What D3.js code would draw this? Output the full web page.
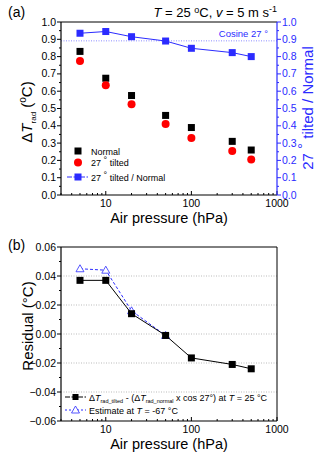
<!DOCTYPE html>
<html>
<head>
<meta charset="utf-8">
<title>Air pressure chart</title>
<script src="https://cdn.jsdelivr.net/npm/d3@7"></script>
<style>
	body { margin: 0; background: #fff; }
	svg text { font-family: "Liberation Sans", Arial, sans-serif; }
</style>
</head>
<body>
<svg id="chart" width="320" height="458"></svg>
<script>

// pressure points (hPa)
var pressure = [5, 10, 20, 50, 100, 300, 500];
// panel (a)
var normalVals = [0.83, 0.675, 0.575, 0.46, 0.39, 0.31, 0.26];
var tiltedVals = [0.775, 0.635, 0.525, 0.41, 0.33, 0.255, 0.205];
var ratioVals = [0.935, 0.945, 0.915, 0.89, 0.848, 0.823, 0.80];
var cosine27 = 0.891;
// panel (b)
var residual25 = [0.037, 0.037, 0.014, -0.001, -0.0165, -0.021, -0.024];
var pressureEst = [5, 10, 20, 50];
var residualEst = [0.045, 0.044, 0.016, -0.001];

var leftTicks = [0, 0.1, 0.2, 0.3, 0.4, 0.5, 0.6, 0.7, 0.8, 0.9, 1.0];
var resTicks = [-0.06, -0.04, -0.02, 0, 0.02, 0.04, 0.06];
var xTicks = [10, 100, 1000];

var blue = "#2b2bff";
var svg = d3.select("#chart");

var x = d3.scaleLog().domain([3, 1000]).range([61, 277]);
var ya = d3.scaleLinear().domain([0, 1]).range([195, 22]);
var yb = d3.scaleLinear().domain([-0.06, 0.06]).range([421, 247]);

// minor ticks for log axis
var xMinor = [];
[1, 10, 100].forEach(function(d){
	for(var k = 2; k <= 9; k++){
		var v = d * k;
		if(v >= 3 && v < 1000) xMinor.push(v);
	}
});

function bottomAxis(y0, y1){
	var g = svg.append("g");
	g.append("line").attr("x1", 61).attr("x2", 277).attr("y1", y0).attr("y2", y0)
		.attr("stroke", "#000").attr("stroke-width", 1.2);
	g.append("line").attr("x1", 61).attr("x2", 277).attr("y1", y1).attr("y2", y1)
		.attr("stroke", "#000").attr("stroke-width", 1);
	g.selectAll(".maj").data(xTicks).enter().append("line")
		.attr("x1", function(d){ return x(d); }).attr("x2", function(d){ return x(d); })
		.attr("y1", y0).attr("y2", y0 - 4).attr("stroke", "#000");
	g.selectAll(".min").data(xMinor).enter().append("line")
		.attr("x1", function(d){ return x(d); }).attr("x2", function(d){ return x(d); })
		.attr("y1", y0).attr("y2", y0 - 2).attr("stroke", "#000");
	g.selectAll("text").data(xTicks).enter().append("text")
		.attr("x", function(d){ return x(d); }).attr("y", y0 + 12)
		.attr("text-anchor", "middle").attr("font-size", 10.5).text(function(d){ return d; });
	g.append("text").attr("x", 169).attr("y", y0 + 28).attr("text-anchor", "middle")
		.attr("font-size", 14.5).text("Air pressure (hPa)");
}

function sideAxis(scale, ticks, xpos, dir, color, fmt){
	var g = svg.append("g");
	g.append("line").attr("x1", xpos).attr("x2", xpos)
		.attr("y1", scale.range()[0]).attr("y2", scale.range()[1])
		.attr("stroke", color).attr("stroke-width", 1.2);
	g.selectAll(".maj").data(ticks).enter().append("line")
		.attr("x1", xpos).attr("x2", xpos + dir * 4)
		.attr("y1", function(d){ return scale(d); }).attr("y2", function(d){ return scale(d); })
		.attr("stroke", color);
	var minor = [];
	for(var i = 1; i < ticks.length; i++) minor.push((ticks[i] + ticks[i-1]) / 2);
	g.selectAll(".min").data(minor).enter().append("line")
		.attr("x1", xpos).attr("x2", xpos + dir * 2)
		.attr("y1", function(d){ return scale(d); }).attr("y2", function(d){ return scale(d); })
		.attr("stroke", color);
	g.selectAll("text").data(ticks).enter().append("text")
		.attr("x", xpos + dir * 5).attr("y", function(d){ return scale(d) + 3.5; })
		.attr("text-anchor", dir < 0 ? "end" : "start")
		.attr("font-size", 10.5).attr("fill", color)
		.text(function(d){ return fmt(d); });
}

// ---------- panel (a) ----------
svg.append("text").attr("x", 8).attr("y", 17).attr("font-size", 14).text("(a)");
var title = svg.append("text").attr("x", 277).attr("y", 17).attr("text-anchor", "end").attr("font-size", 13);
title.append("tspan").attr("font-style", "italic").text("T");
title.append("tspan").text(" = 25 ");
title.append("tspan").attr("font-size", 9).attr("dy", -4).text("o");
title.append("tspan").attr("dy", 4).text("C, ");
title.append("tspan").attr("font-style", "italic").text("v");
title.append("tspan").text(" = 5 m s");
title.append("tspan").attr("font-size", 9).attr("dy", -5).text("-1");

// cosine reference line
svg.append("line").attr("x1", 61).attr("x2", 277)
	.attr("y1", ya(cosine27)).attr("y2", ya(cosine27))
	.attr("stroke", "#8c8cff").attr("stroke-width", 1).attr("stroke-dasharray", "1,1.5");
svg.append("text").attr("x", 268).attr("y", ya(cosine27) - 4).attr("text-anchor", "end")
	.attr("font-size", 9.5).attr("fill", blue).text("Cosine 27 °");

bottomAxis(195, 22);
sideAxis(ya, leftTicks, 61, -1, "#000", d3.format(".1f"));
sideAxis(ya, leftTicks, 277, 1, blue, d3.format(".1f"));

// ratio line
var lineA = d3.line().x(function(d, i){ return x(pressure[i]); }).y(function(d){ return ya(d); });
svg.append("path").datum(ratioVals).attr("d", lineA).attr("fill", "none")
	.attr("stroke", blue).attr("stroke-width", 1);
svg.selectAll(".ratio").data(ratioVals).enter().append("rect")
	.attr("x", function(d, i){ return x(pressure[i]) - 3.5; }).attr("y", function(d){ return ya(d) - 3.5; })
	.attr("width", 7).attr("height", 7).attr("fill", blue);

svg.selectAll(".norm").data(normalVals).enter().append("rect")
	.attr("x", function(d, i){ return x(pressure[i]) - 3.5; }).attr("y", function(d){ return ya(d) - 3.5; })
	.attr("width", 7).attr("height", 7).attr("fill", "#000");
svg.selectAll(".tilt").data(tiltedVals).enter().append("circle")
	.attr("cx", function(d, i){ return x(pressure[i]); }).attr("cy", function(d){ return ya(d); })
	.attr("r", 4).attr("fill", "#f00");

// legend (a)
svg.append("rect").attr("x", 74.5).attr("y", 147.5).attr("width", 7).attr("height", 7).attr("fill", "#000");
svg.append("text").attr("x", 91).attr("y", 154.5).attr("font-size", 9).text("Normal");
svg.append("circle").attr("cx", 78).attr("cy", 162.5).attr("r", 4).attr("fill", "#f00");
var lt = svg.append("text").attr("x", 91).attr("y", 166).attr("font-size", 9);
lt.append("tspan").text("27 ");
lt.append("tspan").attr("dy", -3).text("°");
lt.append("tspan").attr("dy", 3).text(" tilted");
svg.append("line").attr("x1", 67).attr("x2", 88).attr("y1", 177).attr("y2", 177)
	.attr("stroke", blue).attr("stroke-width", 1).attr("stroke-dasharray", "5,1.5");
svg.append("rect").attr("x", 74.5).attr("y", 173.5).attr("width", 7).attr("height", 7).attr("fill", blue);
var lr = svg.append("text").attr("x", 91).attr("y", 180.5).attr("font-size", 9);
lr.append("tspan").text("27 ");
lr.append("tspan").attr("dy", -3).text("°");
lr.append("tspan").attr("dy", 3).text(" tilted / Normal");

// axis titles (a)
var yl = svg.append("text").attr("transform", "translate(32,112) rotate(-90)")
	.attr("text-anchor", "middle").attr("font-size", 15);
yl.append("tspan").text("Δ");
yl.append("tspan").attr("font-style", "italic").text("T");
yl.append("tspan").attr("font-size", 8).attr("dy", 4).text("rad");
yl.append("tspan").attr("dy", -4).text(" (");
yl.append("tspan").attr("font-size", 10).attr("dy", -6).text("o");
yl.append("tspan").attr("dy", 6).text("C)");
var yr = svg.append("text").attr("transform", "translate(313,108) rotate(-90)")
	.attr("text-anchor", "middle").attr("font-size", 15).attr("fill", blue);
yr.append("tspan").text("27 ");
yr.append("tspan").attr("dy", -5).text("°");
yr.append("tspan").attr("dy", 5).text(" tilted / Normal");

// ---------- panel (b) ----------
svg.append("text").attr("x", 8).attr("y", 250).attr("font-size", 14).text("(b)");

svg.selectAll(".grid").data([-0.04, -0.02, 0, 0.02, 0.04]).enter().append("line")
	.attr("x1", 61).attr("x2", 277)
	.attr("y1", function(d){ return yb(d); }).attr("y2", function(d){ return yb(d); })
	.attr("stroke", "#bbb").attr("stroke-width", 1).attr("stroke-dasharray", "1,1.5");

svg.append("line").attr("x1", 277).attr("x2", 277).attr("y1", 247).attr("y2", 421)
	.attr("stroke", "#000").attr("stroke-width", 1);
bottomAxis(421, 247);
sideAxis(yb, resTicks, 61, -1, "#000", d3.format(".2f"));

var lineB = d3.line().x(function(d){ return x(d[0]); }).y(function(d){ return yb(d[1]); });
svg.append("path").datum(d3.zip(pressureEst, residualEst)).attr("d", lineB).attr("fill", "none")
	.attr("stroke", blue).attr("stroke-width", 1).attr("stroke-dasharray", "3,2");
svg.selectAll(".est").data(d3.zip(pressureEst, residualEst)).enter().append("path")
	.attr("transform", function(d){ return "translate(" + x(d[0]) + "," + yb(d[1]) + ")"; })
	.attr("d", "M0,-4L4,3L-4,3Z").attr("fill", "#fff").attr("stroke", blue).attr("stroke-width", 0.8);

svg.append("path").datum(d3.zip(pressure, residual25)).attr("d", lineB).attr("fill", "none")
	.attr("stroke", "#000").attr("stroke-width", 1);
svg.selectAll(".res").data(d3.zip(pressure, residual25)).enter().append("rect")
	.attr("x", function(d){ return x(d[0]) - 3.5; }).attr("y", function(d){ return yb(d[1]) - 3.5; })
	.attr("width", 7).attr("height", 7).attr("fill", "#000");

// legend (b)
svg.append("line").attr("x1", 65).attr("x2", 86).attr("y1", 397).attr("y2", 397)
	.attr("stroke", "#000").attr("stroke-width", 1).attr("stroke-dasharray", "5,1.5");
svg.append("rect").attr("x", 72.5).attr("y", 394).attr("width", 6).attr("height", 6).attr("fill", "#000");
var lb = svg.append("text").attr("x", 89).attr("y", 400.5).attr("font-size", 9);
lb.append("tspan").text("Δ");
lb.append("tspan").attr("font-style", "italic").text("T");
lb.append("tspan").attr("font-size", 5.5).attr("dy", 2).text("rad_tilted");
lb.append("tspan").attr("dy", -2).text(" - (Δ");
lb.append("tspan").attr("font-style", "italic").text("T");
lb.append("tspan").attr("font-size", 5.5).attr("dy", 2).text("rad_normal");
lb.append("tspan").attr("dy", -2).text(" x cos 27°) at ");
lb.append("tspan").attr("font-style", "italic").text("T");
lb.append("tspan").text(" = 25 °C");

svg.append("line").attr("x1", 65).attr("x2", 86).attr("y1", 410).attr("y2", 410)
	.attr("stroke", blue).attr("stroke-width", 1).attr("stroke-dasharray", "2,2");
svg.append("path").attr("transform", "translate(75.5,410)")
	.attr("d", "M0,-4L4,3L-4,3Z").attr("fill", "#fff").attr("stroke", blue).attr("stroke-width", 0.8);
var le = svg.append("text").attr("x", 89).attr("y", 413.5).attr("font-size", 9);
le.append("tspan").text("Estimate at ");
le.append("tspan").attr("font-style", "italic").text("T");
le.append("tspan").text(" = -67 °C");

svg.append("text").attr("transform", "translate(33,326) rotate(-90)")
	.attr("text-anchor", "middle").attr("font-size", 15).text("Residual (°C)");

</script>
</body>
</html>
